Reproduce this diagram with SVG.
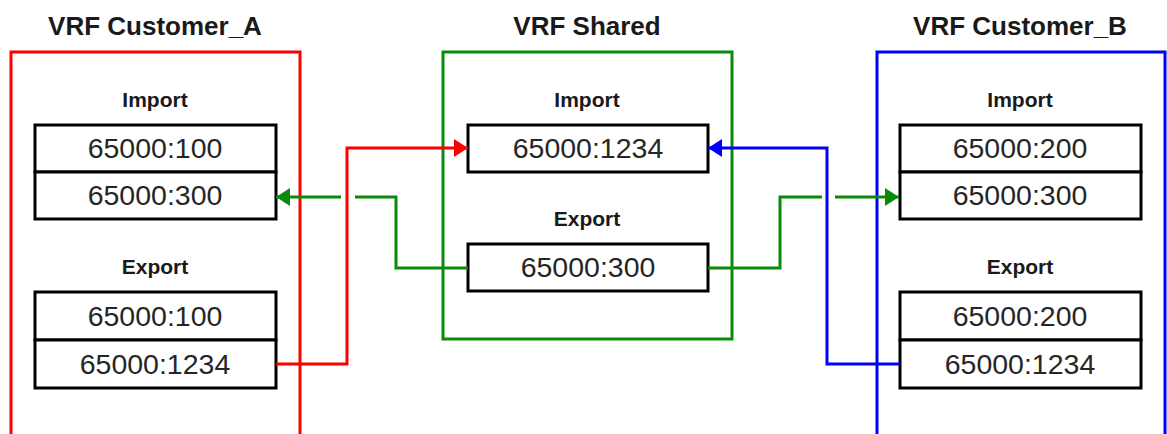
<svg xmlns="http://www.w3.org/2000/svg" width="1167" height="434" viewBox="0 0 1167 434">
<style>
.frame{fill:none;stroke-width:3}
.box{fill:#fff;stroke:#000;stroke-width:3}
.title{font-family:"Liberation Sans",Arial,sans-serif;font-weight:bold;font-size:26px;fill:#1a1a1a;text-anchor:middle}
.lbl{font-family:"Liberation Sans",Arial,sans-serif;font-weight:bold;font-size:21px;fill:#1a1a1a;text-anchor:middle}
.val{font-family:"Liberation Sans",Arial,sans-serif;font-size:28.5px;fill:#262626;text-anchor:middle}
.c{fill:none;stroke-width:3}
</style>
<defs>
<marker id="aR" viewBox="0 0 14 18" refX="14" refY="9" markerWidth="14" markerHeight="18" markerUnits="userSpaceOnUse" orient="auto"><path d="M0,0 L14,9 L0,18 Z" fill="#ff0000"/></marker>
<marker id="aG" viewBox="0 0 14 18" refX="14" refY="9" markerWidth="14" markerHeight="18" markerUnits="userSpaceOnUse" orient="auto"><path d="M0,0 L14,9 L0,18 Z" fill="#0a8a0a"/></marker>
<marker id="aB" viewBox="0 0 14 18" refX="14" refY="9" markerWidth="14" markerHeight="18" markerUnits="userSpaceOnUse" orient="auto"><path d="M0,0 L14,9 L0,18 Z" fill="#0000ff"/></marker>
</defs>
<rect width="1167" height="434" fill="#fff"/>
<g id="vrf-customer-a">
<rect class="frame" x="11" y="52" width="289" height="400" stroke="#ff0000"/>
<text class="title" x="155" y="35">VRF Customer_A</text>
<text class="lbl" x="155" y="107">Import</text>
<rect class="box" x="35" y="125" width="241" height="47"/>
<rect class="box" x="35" y="172" width="241" height="47"/>
<text class="val" x="155" y="158">65000:100</text>
<text class="val" x="155" y="205">65000:300</text>
<text class="lbl" x="155" y="274">Export</text>
<rect class="box" x="35" y="292" width="241" height="48"/>
<rect class="box" x="35" y="340" width="241" height="48"/>
<text class="val" x="155" y="326">65000:100</text>
<text class="val" x="155" y="374">65000:1234</text>
</g>
<g id="vrf-shared">
<rect class="frame" x="443" y="52" width="289" height="287" stroke="#0a8a0a"/>
<text class="title" x="587" y="35">VRF Shared</text>
<text class="lbl" x="587" y="107">Import</text>
<rect class="box" x="468" y="125" width="240" height="47"/>
<text class="val" x="588" y="158">65000:1234</text>
<text class="lbl" x="587" y="226">Export</text>
<rect class="box" x="468" y="244" width="240" height="47"/>
<text class="val" x="588" y="277">65000:300</text>
</g>
<g id="vrf-customer-b">
<rect class="frame" x="877" y="52" width="288" height="400" stroke="#0000ff"/>
<text class="title" x="1020" y="35">VRF Customer_B</text>
<text class="lbl" x="1020" y="107">Import</text>
<rect class="box" x="900" y="125" width="241" height="47"/>
<rect class="box" x="900" y="172" width="241" height="47"/>
<text class="val" x="1020" y="158">65000:200</text>
<text class="val" x="1020" y="205">65000:300</text>
<text class="lbl" x="1020" y="274">Export</text>
<rect class="box" x="900" y="292" width="241" height="48"/>
<rect class="box" x="900" y="340" width="241" height="48"/>
<text class="val" x="1020" y="326">65000:200</text>
<text class="val" x="1020" y="374">65000:1234</text>
</g>
<g id="connectors">
<path class="c" stroke="#ff0000" d="M276,364 H347 V148 H468" marker-end="url(#aR)"/>
<path class="c" stroke="#0000ff" d="M900,364 H827 V148 H708" marker-end="url(#aB)"/>
<path class="c" stroke="#0a8a0a" d="M468,268 H396 V197 H355"/>
<path class="c" stroke="#0a8a0a" d="M341,197 H276" marker-end="url(#aG)"/>
<path class="c" stroke="#0a8a0a" d="M708,268 H780 V197 H822"/>
<path class="c" stroke="#0a8a0a" d="M835,197 H899" marker-end="url(#aG)"/>
</g>
</svg>
